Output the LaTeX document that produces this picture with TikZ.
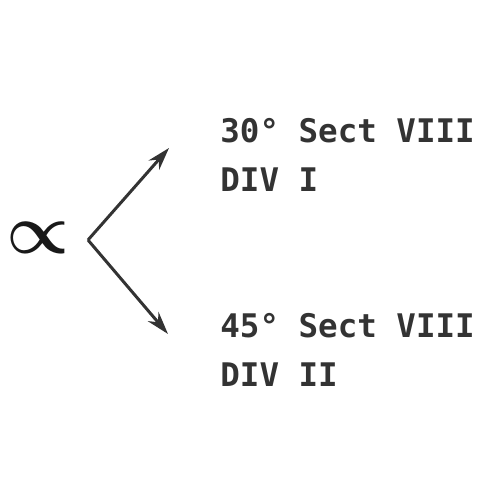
\documentclass[tikz,border=0pt]{standalone}
\usepackage{amsmath,amssymb}
\usepackage{fontspec}
\setmonofont{DejaVu Sans Mono}
\usetikzlibrary{arrows.meta,positioning}

\begin{document}
\begin{tikzpicture}[
    auto,
    ink/.style={draw=black!80, line width=1.7pt},
    tip/.style={-{Stealth[length=13pt, width=8pt]}},
    label/.style={anchor=base west, inner sep=0, align=left, text=black!80,
        font=\ttfamily\bfseries\fontsize{18.5}{27.9}\selectfont},
    symbol/.style={inner sep=0, text=black!90}]
\useasboundingbox (0,0) rectangle (10,10);

% vertex of the two arrows
\coordinate (vertex) at (1.76,5.2);
\coordinate (uptip)  at (3.38,7.04);
\coordinate (lowtip) at (3.36,3.32);

\node[symbol] (alpha) at (0.75,5.24) {\scalebox{4.0}{$\boldsymbol{\propto}$}};

\path[ink, tip] (vertex) -- (uptip);
\path[ink, tip] (vertex) -- (lowtip);

\node[label] (upper) at (4.4,6.16) {30° Sect VIII\\DIV I};
\node[label] (lower) at (4.4,2.26) {45° Sect VIII\\DIV II};

\end{tikzpicture}
\end{document}
